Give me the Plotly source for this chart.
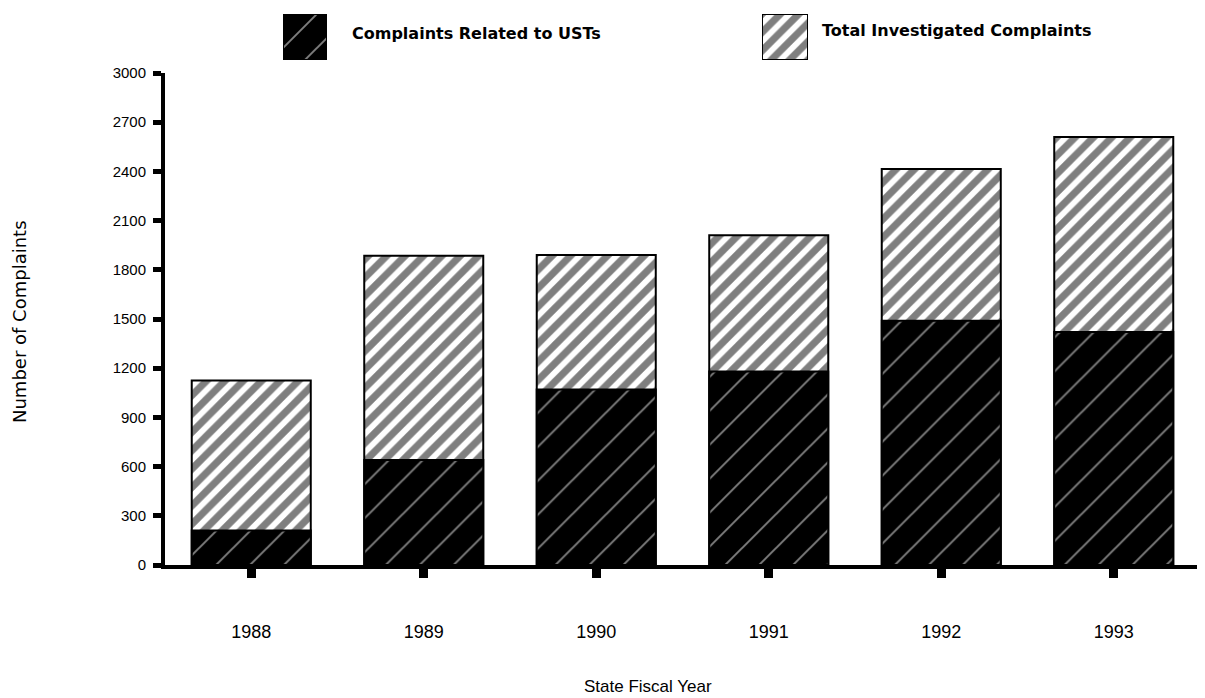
import plotly.graph_objects as go

years = ["1988", "1989", "1990", "1991", "1992", "1993"]
total_complaints = [1125, 1885, 1890, 2010, 2415, 2610]
ust_complaints = [210, 640, 1070, 1180, 1490, 1420]
y_ticks = [0, 300, 600, 900, 1200, 1500, 1800, 2100, 2400, 2700, 3000]
name_ust = "Complaints Related to USTs"
name_total = "Total Investigated Complaints"

FONT = "Liberation Sans, Arial, sans-serif"
WIDE = "DejaVu Sans, Verdana, sans-serif"

total_marker = dict(color="white",
                    line=dict(color="black", width=2),
                    pattern=dict(shape="/", fgcolor="black", bgcolor="white",
                                 size=13, solidity=0.55))
ust_marker = dict(color="black",
                  line=dict(color="black", width=2),
                  pattern=dict(shape="/", fgcolor="white", bgcolor="black",
                               size=24, solidity=0.08))

fig = go.Figure()
fig.add_trace(go.Bar(x=years, y=total_complaints, name=name_total,
                     marker=total_marker, showlegend=False, width=0.69))
fig.add_trace(go.Bar(x=years, y=ust_complaints, name=name_ust,
                     marker=ust_marker, showlegend=False, width=0.69))

# legend swatches (drawn as single bars on small helper axes)
fig.add_trace(go.Bar(x=[0], y=[1], marker=ust_marker, xaxis="x2", yaxis="y2",
                     showlegend=False, hoverinfo="skip", width=1))
fig.add_trace(go.Bar(x=[0], y=[1], marker=total_marker, xaxis="x3", yaxis="y3",
                     showlegend=False, hoverinfo="skip", width=1))

# the page is offset by 8px: design in page pixels, convert to figure pixels
OFF = 8
W, H = 1205, 698
ml, mr, mt, mb = 157, 13, 0, 141
pw, ph = W - ml - mr, H - mt - mb


def px_x(x):
    return (x - OFF - ml) / pw


def px_y(y):
    return (H - mb - (y - OFF)) / ph


plot_top = 73
hidden = dict(visible=False, showgrid=False, zeroline=False, fixedrange=True)

fig.update_layout(
    width=W, height=H,
    margin=dict(l=ml, r=mr, t=mt, b=mb),
    paper_bgcolor="white", plot_bgcolor="white",
    barmode="overlay", bargap=0.3,
    font=dict(family=FONT, color="black"),
    xaxis=dict(type="category", range=[-0.5, 5.5], automargin=False,
               showline=True, linecolor="black", linewidth=4,
               ticks="outside", ticklen=9, tickwidth=9, tickcolor="black",
               ticklabelstandoff=38,
               tickfont=dict(size=18), showgrid=False, zeroline=False),
    yaxis=dict(domain=[0, px_y(plot_top)], range=[0, 3000], automargin=False,
               tickvals=y_ticks, ticktext=[str(v) for v in y_ticks],
               showline=True, linecolor="black", linewidth=4,
               ticks="outside", ticklen=8, tickwidth=5, tickcolor="black",
               ticklabelstandoff=4,
               tickfont=dict(size=15), showgrid=False, zeroline=False),
    xaxis2=dict(domain=[px_x(283), px_x(327)], anchor="y2", range=[-0.5, 0.5], **hidden),
    yaxis2=dict(domain=[px_y(60), px_y(14)], anchor="x2", range=[0, 1], **hidden),
    xaxis3=dict(domain=[px_x(762), px_x(808)], anchor="y3", range=[-0.5, 0.5], **hidden),
    yaxis3=dict(domain=[px_y(60), px_y(14)], anchor="x3", range=[0, 1], **hidden),
    annotations=[
        dict(text="<b>" + name_ust + "</b>", xref="paper", yref="paper",
             x=px_x(350), y=px_y(33), xanchor="left", yanchor="middle",
             showarrow=False, font=dict(size=16, family=WIDE)),
        dict(text="<b>" + name_total + "</b>", xref="paper", yref="paper",
             x=px_x(820), y=px_y(31), xanchor="left", yanchor="middle",
             showarrow=False, font=dict(size=16, family=WIDE)),
        dict(text="Number of Complaints", xref="paper", yref="paper",
             x=px_x(19), y=px_y(322), xanchor="center", yanchor="middle",
             textangle=-90, showarrow=False, font=dict(size=18, family=WIDE)),
        dict(text="State Fiscal Year", xref="paper", yref="paper",
             x=px_x(648), y=px_y(686), xanchor="center", yanchor="middle",
             showarrow=False, font=dict(size=17, family=FONT)),
    ],
)

fig.write_html("out.html")
